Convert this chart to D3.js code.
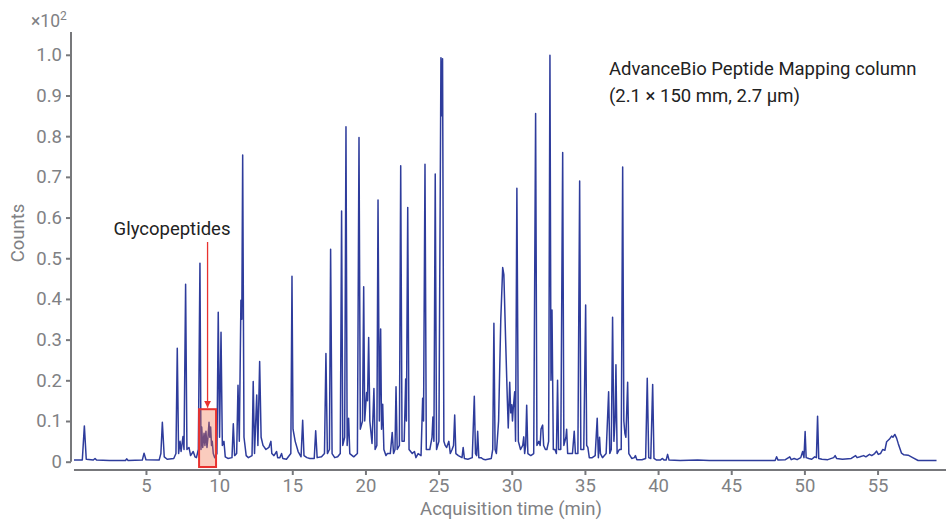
<!DOCTYPE html>
<html>
<head>
<meta charset="utf-8">
<script src="https://cdn.jsdelivr.net/npm/d3@7"></script>
<style>
  html, body { margin: 0; padding: 0; background: #fff; }
  svg { display: block; font-family: Roboto, "Noto Sans", sans-serif; }
</style>
</head>
<body>
<svg id="chart" width="946" height="520"></svg>
<script>
// Total ion chromatogram, counts in units of 10^2, retention time in minutes.
// Each trace segment is a list of [time (min), counts] vertices.
const traceEarly = [
  [0.08,0.004],[0.65,0.004],[0.79,0.088],[0.92,0.006],[1.4,0.004],[1.52,0.008],[1.62,0.004],
  [2.5,0.003],[3.6,0.003],[3.68,0.007],[3.78,0.003],[4.75,0.004],[4.87,0.021],[5.0,0.005],
  [5.9,0.004],[6.02,0.02],[6.12,0.097],[6.25,0.012],[6.45,0.006],[6.9,0.008],[7.05,0.02],
  [7.14,0.279],[7.23,0.02],[7.33,0.05],[7.4,0.025],[7.53,0.062],[7.6,0.03],[7.71,0.436],
  [7.8,0.03],[7.94,0.035],[8.05,0.015],[8.23,0.025],[8.35,0.012],[8.45,0.01],[8.58,0.03],
  [8.69,0.488],[8.76,0.03],[8.81,0.085],[8.88,0.035],[8.97,0.07],[9.03,0.04],[9.1,0.075],
  [9.17,0.035],[9.24,0.06],[9.31,0.097],[9.36,0.06],[9.42,0.085],[9.48,0.04],[9.53,0.05],
  [9.6,0.02],[9.7,0.01],[9.85,0.02],[9.94,0.367],[10.03,0.06],[10.13,0.318],[10.22,0.04],
  [10.33,0.05],[10.42,0.012],[10.6,0.008]
];
const traceMid = [
  [10.88,0.01],[10.97,0.093],[11.06,0.015],[11.2,0.02],[11.29,0.188],[11.38,0.05],[11.49,0.397],
  [11.55,0.35],[11.61,0.754],[11.7,0.06],[11.85,0.015],[12.0,0.01],[12.25,0.015],[12.33,0.197],
  [12.42,0.02],[12.57,0.164],[12.65,0.04],[12.77,0.246],[12.87,0.06],[13.0,0.04],[13.2,0.03],
  [13.4,0.035],[13.54,0.05],[13.6,0.02],[13.75,0.015],[13.93,0.025],[14.0,0.01],[14.15,0.01],
  [14.27,0.02],[14.35,0.008],[14.6,0.006],[14.9,0.02],[14.98,0.456],[15.05,0.08],[15.2,0.05],
  [15.4,0.025],[15.6,0.012],[15.71,0.102],[15.8,0.015],[16.0,0.01],[16.2,0.008],[16.5,0.008],
  [16.6,0.076],[16.7,0.01],[17.0,0.012],[17.2,0.02],[17.3,0.266],[17.4,0.02],[17.54,0.03],
  [17.62,0.522],[17.72,0.02],[17.9,0.01],[18.1,0.012],[18.28,0.02],[18.37,0.616],[18.45,0.04],
  [18.58,0.06],[18.67,0.823],[18.75,0.04],[18.85,0.107],[18.93,0.02],[19.2,0.012],[19.45,0.02],
  [19.56,0.797],[19.65,0.08],[19.8,0.1],[19.88,0.43],[19.95,0.1],[20.08,0.17],[20.14,0.15],
  [20.22,0.305],[20.3,0.1],[20.45,0.045],[20.58,0.18],[20.66,0.03],[20.78,0.04],[20.86,0.643],
  [20.95,0.1],[21.04,0.326],[21.1,0.08],[21.18,0.141],[21.26,0.03],[21.4,0.015],[21.5,0.02]
];
const traceLate = [
  [21.7,0.02],[21.83,0.072],[21.92,0.02],[22.02,0.03],[22.09,0.184],[22.17,0.03],[22.32,0.04],
  [22.41,0.727],[22.5,0.05],[22.65,0.05],[22.75,0.203],[22.8,0.1],[22.89,0.625],[22.98,0.03],
  [23.2,0.02],[23.35,0.025],[23.45,0.01],[23.6,0.02],[23.8,0.015],[23.91,0.156],[23.97,0.1],
  [24.07,0.731],[24.16,0.03],[24.4,0.03],[24.55,0.06],[24.61,0.11],[24.68,0.05],[24.77,0.707],
  [24.86,0.03],[25.02,0.05],[25.16,0.993],[25.22,0.85],[25.27,0.99],[25.36,0.05],[25.45,0.04],
  [25.55,0.035],[25.7,0.05],[25.8,0.02],[25.92,0.03],[26.02,0.04],[26.1,0.115],[26.18,0.02],
  [26.35,0.015],[26.6,0.01],[26.68,0.035],[26.76,0.008],[27.0,0.006],[27.3,0.01],[27.44,0.161],
  [27.52,0.02],[27.6,0.015],[27.67,0.075],[27.75,0.01],[27.9,0.01],[28.05,0.006],[28.2,0.005],
  [28.6,0.008],[28.7,0.03],[28.78,0.34],[28.86,0.03],[28.95,0.02],[29.1,0.1],[29.25,0.35],
  [29.38,0.477],[29.46,0.46],[29.58,0.3],[29.7,0.15],[29.76,0.083],[29.86,0.195],[29.93,0.12],
  [30.0,0.14],[30.05,0.1],[30.1,0.13],[30.2,0.172],[30.26,0.05],[30.35,0.672],[30.45,0.05],
  [30.6,0.03],[30.75,0.04],[30.82,0.061],[30.88,0.02],[30.95,0.04],[31.02,0.139],[31.1,0.02],
  [31.3,0.015],[31.5,0.02],[31.63,0.856],[31.72,0.04],[31.85,0.05],[31.94,0.04],[32.0,0.08],
  [32.11,0.09],[32.18,0.04],[32.3,0.03],[32.4,0.03],[32.52,0.05],[32.61,0.999],[32.68,0.2],
  [32.75,0.373],[32.84,0.03],[32.95,0.03]
];
const traceTail = [
  [33.05,0.02],[33.13,0.2],[33.2,0.03],[33.35,0.03],[33.48,0.76],[33.56,0.04],[33.7,0.06],
  [33.75,0.08],[33.82,0.02],[34.0,0.02],[34.15,0.02],[34.27,0.075],[34.35,0.02],[34.52,0.02],
  [34.64,0.69],[34.72,0.03],[34.92,0.03],[35.05,0.385],[35.12,0.04],[35.2,0.035],[35.3,0.01],
  [35.5,0.01],[35.7,0.015],[35.84,0.107],[35.92,0.01],[36.0,0.06],[36.06,0.02],[36.2,0.01],
  [36.45,0.02],[36.62,0.172],[36.7,0.02],[36.8,0.03],[36.89,0.355],[36.98,0.05],[37.06,0.1],
  [37.12,0.238],[37.2,0.02],[37.35,0.03],[37.48,0.03],[37.58,0.724],[37.66,0.1],[37.73,0.07],
  [37.8,0.06],[37.92,0.195],[38.0,0.02],[38.2,0.008],[38.38,0.01],[38.45,0.015],[38.55,0.005],
  [38.9,0.005],[39.15,0.008],[39.26,0.205],[39.36,0.01],[39.5,0.008],[39.63,0.19],[39.72,0.008],
  [39.9,0.004],[40.15,0.004],[40.3,0.008],[40.4,0.004],[40.55,0.004],[40.65,0.018],[40.75,0.004],
  [41.5,0.003],[42.7,0.004],[43.5,0.003],[44.5,0.003],[45.5,0.003],[47.0,0.003],[48.0,0.003],
  [48.1,0.012],[48.2,0.004],[48.7,0.005],[49.0,0.012],[49.1,0.005],[49.3,0.008],[49.5,0.005],
  [49.75,0.01],[49.88,0.025],[49.97,0.01],[50.05,0.074],[50.12,0.01],[50.3,0.008],[50.5,0.006],
  [50.7,0.012],[50.82,0.01],[50.9,0.112],[50.98,0.008],[51.2,0.006],[51.6,0.005],[52.0,0.01],
  [52.1,0.015],[52.2,0.008],[52.6,0.006],[53.2,0.008],[53.5,0.015],[53.6,0.01],[53.8,0.012],
  [54.05,0.015],[54.2,0.012],[54.45,0.018],[54.6,0.015],[54.8,0.02],[54.93,0.026],[55.05,0.018],
  [55.2,0.02],[55.35,0.03],[55.5,0.028],[55.62,0.049],[55.8,0.055],[55.96,0.063],[56.05,0.06],
  [56.18,0.067],[56.3,0.058],[56.41,0.045],[56.55,0.03],[56.64,0.021],[56.8,0.017],[57.09,0.016],
  [57.4,0.01],[57.77,0.003],[59.03,0.003]
];

const xTicks = [5, 10, 15, 20, 25, 30, 35, 40, 45, 50, 55];
const yTicks = [0, 0.1, 0.2, 0.3, 0.4, 0.5, 0.6, 0.7, 0.8, 0.9, 1.0];

// Glycopeptide window: time range [start, end] and counts range [low, high]
const glycoWindow = { t0: 8.63, t1: 9.79, c0: -0.013, c1: 0.129 };
const glycoLabel = "Glycopeptides";
const columnNote = ["AdvanceBio Peptide Mapping column", "(2.1 × 150 mm, 2.7 μm)"];

const trace = [].concat(traceEarly, traceMid, traceLate, traceTail);

const svg = d3.select("#chart");
const x = d3.scaleLinear().domain([0, 59.65]).range([72.8, 945.6]);
const y = d3.scaleLinear().domain([0, 1.056]).range([461.7, 32]);

const axisColor = "#77787b";
const labelColor = "#808184";
const fontSize = 18.5;

// X axis, offset below the plot
const gx = svg.append("g")
  .attr("transform", "translate(0,470)")
  .call(d3.axisBottom(x).tickValues(xTicks).tickSizeOuter(0).tickSizeInner(5).tickPadding(4)
    .tickFormat(d3.format("d")));
gx.select(".domain").attr("stroke", axisColor).attr("stroke-width", 2)
  .attr("d", `M${x(0.08)},0H946`);
gx.selectAll(".tick line").attr("stroke", axisColor).attr("stroke-width", 2);
gx.selectAll(".tick text").attr("fill", labelColor).attr("font-size", fontSize)
  .attr("font-family", "Roboto, sans-serif");

// Y axis
const gy = svg.append("g")
  .attr("transform", "translate(71,0)")
  .call(d3.axisLeft(y).tickValues(yTicks).tickSizeOuter(0).tickSizeInner(5).tickPadding(4)
    .tickFormat(d => d === 0 ? "0" : d3.format(".1f")(d)));
gy.select(".domain").attr("stroke", axisColor).attr("stroke-width", 2)
  .attr("d", `M0,${y(0)}V32`);
gy.selectAll(".tick line").attr("stroke", axisColor).attr("stroke-width", 2);
gy.selectAll(".tick text").attr("fill", labelColor).attr("font-size", fontSize)
  .attr("font-family", "Roboto, sans-serif");

// Axis titles and scale multiplier
svg.append("text")
  .attr("x", 511).attr("y", 515).attr("text-anchor", "middle")
  .attr("fill", labelColor).attr("font-size", fontSize)
  .text("Acquisition time (min)");
svg.append("text")
  .attr("transform", "translate(24,233) rotate(-90)").attr("text-anchor", "middle")
  .attr("fill", labelColor).attr("font-size", fontSize)
  .text("Counts");
const mult = svg.append("text").attr("x", 31).attr("y", 27)
  .attr("fill", labelColor).attr("font-size", 17.5);
mult.append("tspan").text("×10");
mult.append("tspan").attr("dy", -7).attr("font-size", 12).text("2");

// Chromatogram trace
svg.append("path")
  .datum(trace)
  .attr("fill", "none")
  .attr("stroke", "#2e3c9c")
  .attr("stroke-width", 1.5)
  .attr("stroke-linejoin", "round")
  .attr("d", d3.line().x(d => x(d[0])).y(d => y(d[1])));

// Glycopeptide highlight box
svg.append("rect")
  .attr("x", x(glycoWindow.t0)).attr("y", y(glycoWindow.c1))
  .attr("width", x(glycoWindow.t1) - x(glycoWindow.t0))
  .attr("height", y(glycoWindow.c0) - y(glycoWindow.c1))
  .attr("fill", "rgba(240,110,70,0.35)")
  .attr("stroke", "#e8322f").attr("stroke-width", 2);

// Arrow from label to box
const arrowX = x((glycoWindow.t0 + glycoWindow.t1) / 2);
svg.append("defs").append("marker")
  .attr("id", "arrowhead").attr("viewBox", "0 0 10 10")
  .attr("refX", 10).attr("refY", 5).attr("markerWidth", 7).attr("markerHeight", 7)
  .attr("markerUnits", "userSpaceOnUse").attr("orient", "auto")
  .append("path").attr("d", "M0,0L10,5L0,10z").attr("fill", "#e8322f");
svg.append("line")
  .attr("x1", arrowX).attr("y1", 242)
  .attr("x2", arrowX).attr("y2", y(glycoWindow.c1) - 1.5)
  .attr("stroke", "#e8322f").attr("stroke-width", 1.3)
  .attr("marker-end", "url(#arrowhead)");
svg.append("text")
  .attr("x", 172).attr("y", 235).attr("text-anchor", "middle")
  .attr("fill", "#222").attr("font-size", fontSize)
  .text(glycoLabel);

// Column note
svg.append("text")
  .attr("x", 609).attr("y", 75).attr("fill", "#222").attr("font-size", fontSize)
  .selectAll("tspan").data(columnNote).join("tspan")
  .attr("x", 609).attr("dy", (d, i) => i === 0 ? 0 : 26.5)
  .text(d => d);
</script>
</body>
</html>
